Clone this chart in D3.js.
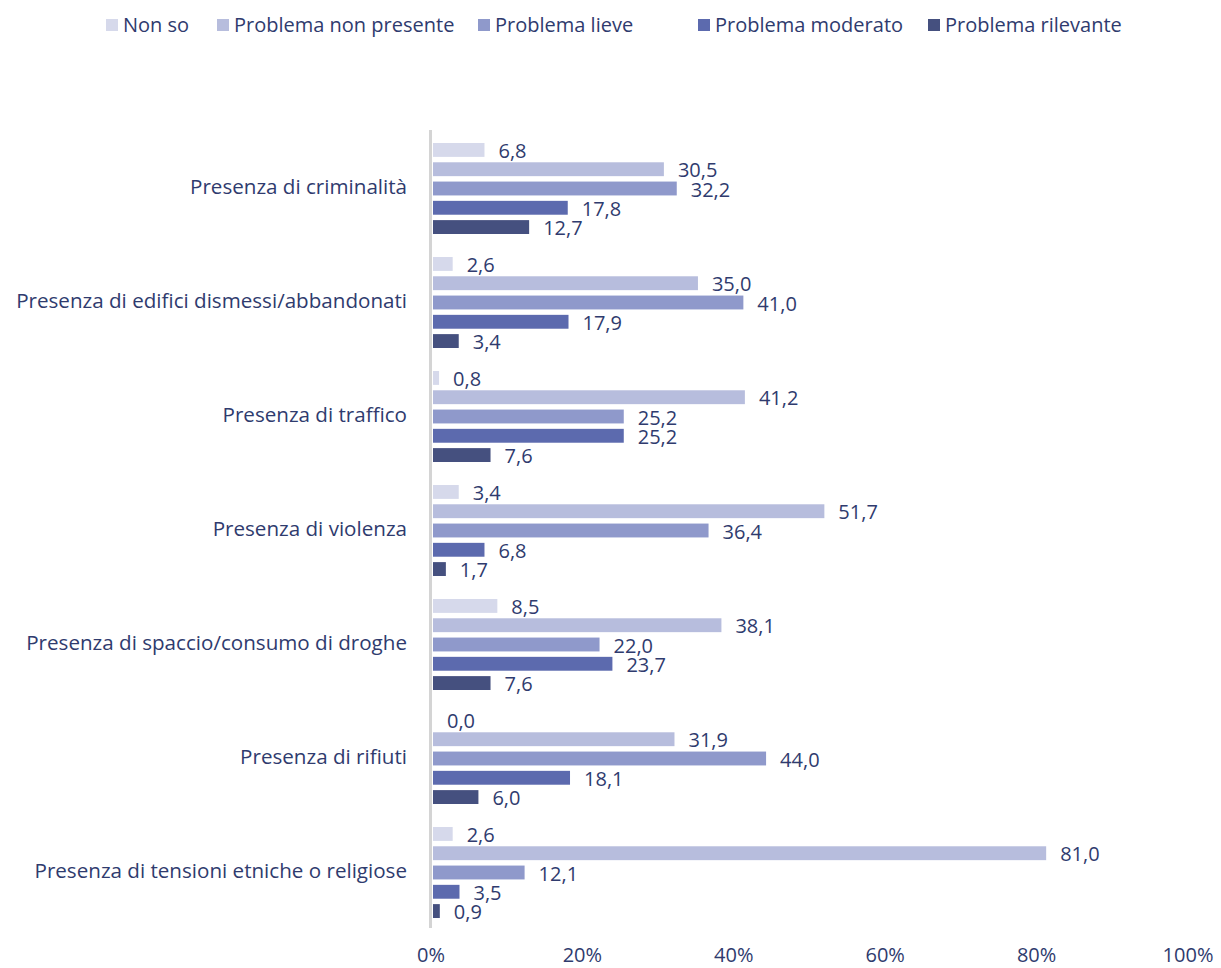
<!DOCTYPE html>
<html><head><meta charset="utf-8">
<script src="https://cdn.jsdelivr.net/npm/d3@7"></script>
<style>body{margin:0;background:#fff}svg{display:block}text{font-family:"Open Sans",Lato,sans-serif;fill:#2f3b6e}</style>
</head><body><svg id="c" width="1221" height="968"></svg>
<script>
const categories = ["Presenza di criminalità","Presenza di edifici dismessi/abbandonati","Presenza di traffico","Presenza di violenza","Presenza di spaccio/consumo di droghe","Presenza di rifiuti","Presenza di tensioni etniche o religiose"];
const seriesNames = ["Non so","Problema non presente","Problema lieve","Problema moderato","Problema rilevante"];
const nonSo = [6.8,2.6,0.8,3.4,8.5,0.0,2.6];
const nonPresente = [30.5,35.0,41.2,51.7,38.1,31.9,81.0];
const lieve = [32.2,41.0,25.2,36.4,22.0,44.0,12.1];
const moderato = [17.8,17.9,25.2,6.8,23.7,18.1,3.5];
const rilevante = [12.7,3.4,7.6,1.7,7.6,6.0,0.9];
const tickLabels = ["0%","20%","40%","60%","80%","100%"];
const colors = ["#d6d9eb","#b7bddd","#8f99cb","#5c6aae","#45507f"];
const seriesValues = [nonSo,nonPresente,lieve,moderato,rilevante];
const FS = 20;

const svg = d3.select("#c");
const x = d3.scaleLinear().domain([0,100]).range([433,1190]);
const y0 = d3.scaleBand().domain(categories).range([130,928]);
const y1 = d3.scaleBand().domain(seriesNames).range([13,104]).paddingInner(0.28).paddingOuter(0);

svg.append("line").attr("x1",430.5).attr("x2",430.5).attr("y1",130).attr("y2",928)
  .attr("stroke","#d4d4d4").attr("stroke-width",3);

categories.forEach((c,i)=>{
  const g = svg.append("g").attr("transform",`translate(0,${y0(c)})`);
  seriesNames.forEach((s,j)=>{
    const v = seriesValues[j][i];
    const yy = y1(s);
    g.append("rect").attr("x",x(0)).attr("y",yy).attr("width",x(v)-x(0)).attr("height",y1.bandwidth()).attr("fill",colors[j]);
    g.append("text").attr("x",x(v)+14).attr("y",yy+y1.bandwidth()/2+1).attr("dy","0.35em")
      .attr("font-size",FS).text(v.toFixed(1).replace(".",","));
  });
  svg.append("text").attr("x",407).attr("y",y0(c)+y0.bandwidth()/2).attr("dy","0.35em")
    .attr("text-anchor","end").attr("font-size",20.6).text(c);
});

const ticks = [0,20,40,60,80,100];
ticks.forEach((t,i)=>{
  svg.append("text").attr("x",x(t)-2).attr("y",955).attr("dy","0.35em").attr("text-anchor","middle")
    .attr("font-size",FS).text(tickLabels[i]);
});

const legX = [106,217,478,698,928];
seriesNames.forEach((s,j)=>{
  svg.append("rect").attr("x",legX[j]).attr("y",19).attr("width",12).attr("height",12).attr("fill",colors[j]);
  svg.append("text").attr("x",legX[j]+17).attr("y",25).attr("dy","0.35em").attr("font-size",FS).text(s);
});
</script></body></html>
